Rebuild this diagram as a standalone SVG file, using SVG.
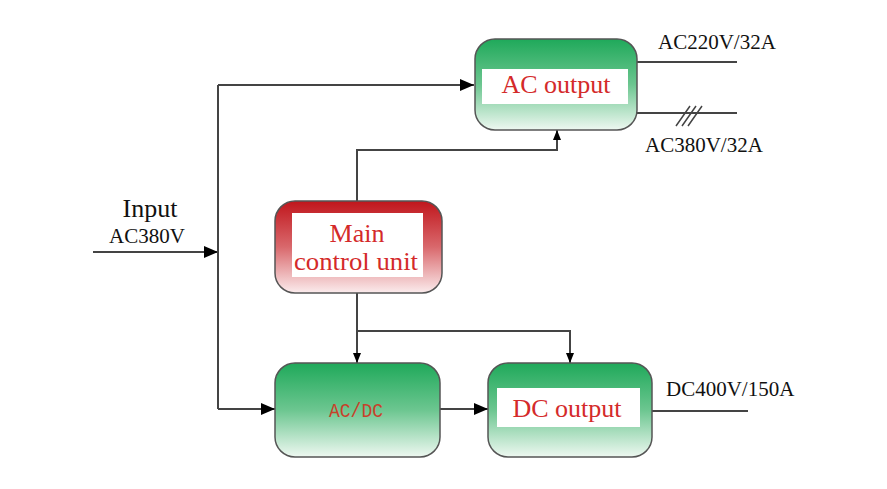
<svg xmlns="http://www.w3.org/2000/svg" width="887" height="489" viewBox="0 0 887 489">
<style>
.box{stroke:#555;stroke-width:1.5}
.inner{fill:#fff}
.lbl{fill:#d42a2a;text-anchor:middle}
.txt{fill:#111}
.wire{fill:none;stroke:#444;stroke-width:2}
</style>
<defs>
<linearGradient id="gg" x1="0" y1="0" x2="0" y2="1">
<stop offset="0" stop-color="#1fa95a"/>
<stop offset="0.5" stop-color="#6cc690"/>
<stop offset="1" stop-color="#eef8f1"/>
</linearGradient>
<linearGradient id="rg" x1="0" y1="0" x2="0" y2="1">
<stop offset="0" stop-color="#c0161c"/>
<stop offset="0.5" stop-color="#d9686c"/>
<stop offset="1" stop-color="#fbeced"/>
</linearGradient>
<marker id="ah" markerWidth="10" markerHeight="8" refX="10" refY="4" orient="auto" markerUnits="userSpaceOnUse">
<path d="M0,0 L10,4 L0,8 Z" fill="#000"/>
</marker>
<marker id="ahs" markerWidth="14" markerHeight="12" refX="14" refY="6" orient="auto" markerUnits="userSpaceOnUse">
<path d="M0,0 L14,6 L0,12 Z" fill="#000"/>
</marker>
</defs>
<g id="connectors">
<path class="wire" d="M93,252 H218" marker-end="url(#ahs)"/>
<path class="wire" d="M218,85 V409"/>
<path class="wire" d="M218,85 H474" marker-end="url(#ahs)"/>
<path class="wire" d="M218,409 H275" marker-end="url(#ahs)"/>
<path class="wire" d="M357,201 V150 H557 V130" marker-end="url(#ah)"/>
<path class="wire" d="M357,293 V363" marker-end="url(#ah)"/>
<path class="wire" d="M357,331 H570 V363" marker-end="url(#ah)"/>
<path class="wire" d="M440,409 H488" marker-end="url(#ahs)"/>
<path class="wire" d="M637,62 H737"/>
<path class="wire" d="M637,113 H737"/>
<path class="wire" d="M652,411 H748"/>
<path d="M676,126 L690,106 M682,126 L696,106 M688,126 L702,106" stroke="#444" stroke-width="1.5" fill="none"/>
</g>
<g id="input-label" font-family="Liberation Serif, Times New Roman, serif">
<text class="txt" x="150" y="217" font-size="26" text-anchor="middle">Input</text>
<text class="txt" x="147" y="243" font-size="21" text-anchor="middle">AC380V</text>
</g>
<g id="ac-output" font-family="Liberation Serif, Times New Roman, serif">
<rect class="box" x="475" y="39" width="162" height="91" rx="20" fill="url(#gg)"/>
<rect class="inner" x="482" y="69" width="146" height="35"/>
<text class="lbl" x="556" y="93" font-size="26">AC output</text>
</g>
<g id="main-control" font-family="Liberation Serif, Times New Roman, serif">
<rect class="box" x="275" y="201" width="167" height="92" rx="20" fill="url(#rg)"/>
<rect class="inner" x="292" y="213" width="131" height="64"/>
<text class="lbl" x="357" y="242" font-size="26">Main</text>
<text class="lbl" x="356" y="270" font-size="26" textLength="124" lengthAdjust="spacingAndGlyphs">control unit</text>
</g>
<g id="acdc">
<rect class="box" x="275" y="363" width="165" height="94" rx="20" fill="url(#gg)"/>
<text x="329" y="417" font-size="20" font-family="Liberation Mono, Courier New, monospace" fill="#c8402a" textLength="54" lengthAdjust="spacingAndGlyphs">AC/DC</text>
</g>
<g id="dc-output" font-family="Liberation Serif, Times New Roman, serif">
<rect class="box" x="488" y="363" width="164" height="94" rx="20" fill="url(#gg)"/>
<rect class="inner" x="497" y="388" width="143" height="39"/>
<text class="lbl" x="567" y="417" font-size="26">DC output</text>
</g>
<g id="output-labels" font-family="Liberation Serif, Times New Roman, serif">
<text class="txt" x="658" y="49" font-size="21">AC220V/32A</text>
<text class="txt" x="645" y="152" font-size="21">AC380V/32A</text>
<text class="txt" x="666" y="396" font-size="21">DC400V/150A</text>
</g>
</svg>
